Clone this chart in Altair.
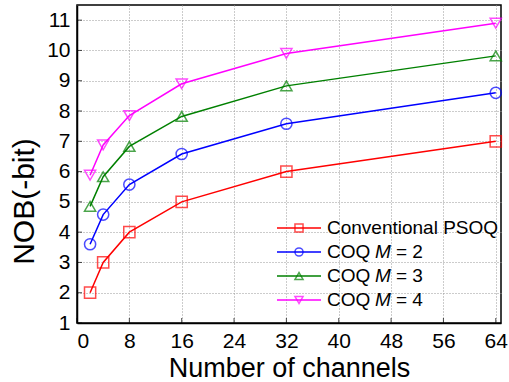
import altair as alt
import pandas as pd

channels = [2, 4, 8, 16, 32, 64]
series_names = ["Conventional PSOQ", "COQ M = 2", "COQ M = 3", "COQ M = 4"]
conventional = [2.0, 3.0, 4.0, 5.0, 6.0, 7.0]
coq_m2 = [3.6, 4.58, 5.57, 6.58, 7.58, 8.6]
coq_m3 = [4.85, 5.83, 6.83, 7.82, 8.83, 9.82]
coq_m4 = [5.88, 6.88, 7.85, 8.9, 9.9, 10.9]
colors = ["#ff0000", "#0000ff", "#008000", "#ff00ff"]
shapes = ["square", "circle", "triangle-up", "triangle-down"]
x_ticks = [0, 8, 16, 24, 32, 40, 48, 56, 64]
y_ticks = [1, 2, 3, 4, 5, 6, 7, 8, 9, 10, 11]

FONT = "Liberation Sans"
W, H = 424, 318

rows = []
for name, vals in zip(series_names, [conventional, coq_m2, coq_m3, coq_m4]):
    for c, v in zip(channels, vals):
        rows.append({"series": name, "channels": c, "nob": v})
df = pd.DataFrame(rows)

xs = alt.Scale(domain=[0, 64.8], nice=False, zero=False)
ys = alt.Scale(domain=[1, 11.5], nice=False, zero=False)
cs = alt.Scale(domain=series_names, range=colors)
ss = alt.Scale(domain=series_names, range=shapes)

x_axis = alt.Axis(values=x_ticks, title="Number of channels",
                  ticks=False, labelPadding=7, labelFontSize=21,
                  labelOverlap=False,
                  titleFontSize=27, titleBaseline="alphabetic",
                  titleY=53, labelFont=FONT, titleFont=FONT,
                  labelColor="black", titleColor="black",
                  titleFontWeight="normal",
                  domainColor="black", domainWidth=1.5,
                  gridColor="#999999", gridDash=[1, 2], gridWidth=1)
y_axis = alt.Axis(values=y_ticks, title="NOB(-bit)",
                  ticks=False, labelPadding=7, labelFontSize=21,
                  labelOverlap=False,
                  titleFontSize=30, titleAngle=270, titleAlign="center",
                  titleBaseline="middle", titleX=-53, titleY=196,
                  labelFont=FONT, titleFont=FONT,
                  labelColor="black", titleColor="black",
                  titleFontWeight="normal",
                  domainColor="black", domainWidth=1.5,
                  gridColor="#999999", gridDash=[1, 2], gridWidth=1)

lines = alt.Chart(df).mark_line(strokeWidth=1.5).encode(
    x=alt.X("channels:Q", scale=xs, axis=x_axis),
    y=alt.Y("nob:Q", scale=ys, axis=y_axis),
    color=alt.Color("series:N", scale=cs, legend=None),
    detail="series:N",
)
points = alt.Chart(df).mark_point(filled=False, strokeWidth=1.5, size=125).encode(
    x=alt.X("channels:Q", scale=xs, axis=x_axis),
    y=alt.Y("nob:Q", scale=ys, axis=y_axis),
    color=alt.Color("series:N", scale=cs, legend=None),
    shape=alt.Shape("series:N", scale=ss, legend=None),
)

xt = alt.Chart(pd.DataFrame({"t": x_ticks})).mark_tick(
    color="black", thickness=1, size=5, orient="vertical").encode(
    x=alt.X("t:Q", scale=xs, axis=x_axis), y=alt.value(H - 2.5))
yt = alt.Chart(pd.DataFrame({"t": y_ticks})).mark_tick(
    color="black", thickness=1, size=5, orient="horizontal").encode(
    y=alt.Y("t:Q", scale=ys, axis=y_axis), x=alt.value(2.5))

legend_layers = []
row_y = [223, 247, 271, 295]
for i, name in enumerate(series_names):
    d = pd.DataFrame({"label": [name]})
    base = alt.Chart(d)
    legend_layers.append(base.mark_rule(color=colors[i], strokeWidth=1.5).encode(
        x=alt.value(200), x2=alt.value(244), y=alt.value(row_y[i])))
    legend_layers.append(base.mark_point(filled=False, strokeWidth=1.5, size=65,
                                         color=colors[i], shape=shapes[i]).encode(
        x=alt.value(222), y=alt.value(row_y[i])))
    if i == 0:
        legend_layers.append(base.mark_text(align="left", baseline="middle",
                                            font=FONT, fontSize=19, color="black").encode(
            x=alt.value(250), y=alt.value(row_y[i]), text="label:N"))
    else:
        parts = name.split(" ")  # ["COQ", "M", "=", "k"]
        legend_layers.append(base.mark_text(align="left", baseline="middle",
                                            font=FONT, fontSize=19, color="black").encode(
            x=alt.value(250), y=alt.value(row_y[i]), text=alt.value(parts[0])))
        legend_layers.append(base.mark_text(align="left", baseline="middle",
                                            font=FONT, fontSize=19, fontStyle="italic",
                                            color="black").encode(
            x=alt.value(298), y=alt.value(row_y[i]), text=alt.value(parts[1])))
        legend_layers.append(base.mark_text(align="left", baseline="middle",
                                            font=FONT, fontSize=19, color="black").encode(
            x=alt.value(319), y=alt.value(row_y[i]), text=alt.value(parts[2] + " " + parts[3])))

chart = alt.layer(lines, points, xt, yt, *legend_layers).properties(
    width=W, height=H,
    padding={"left": 77, "top": 5, "right": 8, "bottom": 59},
    autosize=alt.AutoSizeParams(type="none"),
    background="white",
).configure_view(stroke="black", strokeWidth=1.5)

chart.save("out.html", embed_options={"renderer": "svg", "actions": False})
